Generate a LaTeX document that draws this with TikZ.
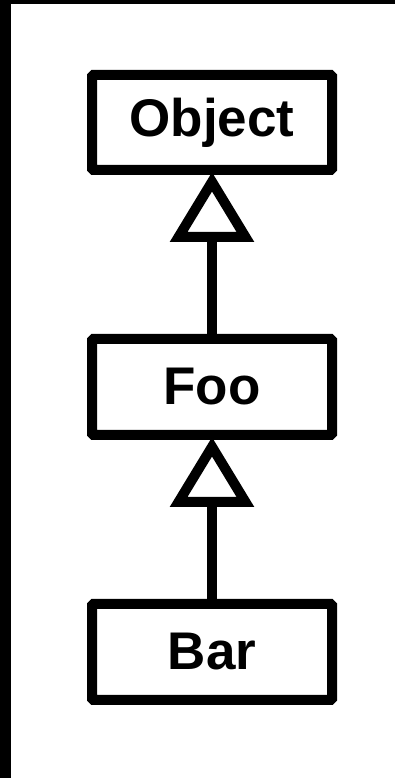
\documentclass[tikz,border=0pt]{standalone}
\usepackage{fontspec}
\setmainfont{Liberation Sans}
\usepackage{tikz}
\usetikzlibrary{positioning,arrows.meta}

\begin{document}
\begin{tikzpicture}[
	x=1pt,y=1pt,
	node distance=159pt,
	classbox/.style={
		draw=black,
		line width=10pt,
		rounded corners=1.5pt,
		minimum width=240pt,
		minimum height=96pt,
		align=center,
		font=\fontsize{53}{60}\selectfont\bfseries
	},
	inherit/.style={
		line width=10pt,
		shorten >=-3pt,
		-{Triangle[open,length=70pt,width=82pt]}
	}
	]
	
	\useasboundingbox (0,0) rectangle (395,778);
	
	% ---------------------------------------------------------
	% FRAME
	% ---------------------------------------------------------
	
	\fill[black] (0,0) rectangle (10.5,778);
	\fill[black] (0,773.5) rectangle (395,778);
	
	% ---------------------------------------------------------
	% CLASSES
	% ---------------------------------------------------------
	
	\node[
	classbox,
	minimum height=95pt
	]
	(object) at (212,655.5)
	{Object};
	
	\node[
	classbox,
	below=of object
	]
	(foo)
	{Foo};
	
	\node[
	classbox,
	below=of foo
	]
	(bar)
	{Bar};
	
	% ---------------------------------------------------------
	% ARROWS
	% ---------------------------------------------------------
	
	\draw[inherit]
	(foo) -- (object);
	
	\draw[inherit]
	(bar) -- (foo);
	
\end{tikzpicture}
\end{document}
